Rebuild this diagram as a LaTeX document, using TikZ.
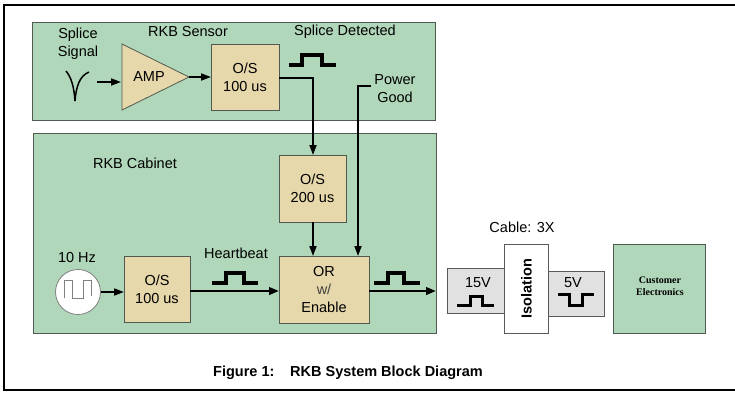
\documentclass[tikz,border=0pt]{standalone}
\usepackage{fontspec}
\setmainfont{Liberation Sans}
\newfontfamily\serifb{Liberation Serif}
\usetikzlibrary{arrows.meta}
\definecolor{grn}{RGB}{177,215,186}
\definecolor{tan}{RGB}{230,216,170}
\definecolor{lgray}{RGB}{225,225,225}
\definecolor{bord}{RGB}{80,90,80}
\tikzset{
  panel/.style={draw=bord, line width=0.9pt, fill=grn, anchor=north west, inner sep=0pt, outer sep=0pt},
  blk/.style={draw=bord, line width=0.8pt, fill=tan, anchor=north west, inner sep=0pt, outer sep=0pt, align=center, font=\fontsize{14.5}{18}\selectfont},
  gbox/.style={draw=gray!70!black, line width=0.8pt, fill=lgray, anchor=north west, inner sep=0pt, outer sep=0pt},
  lbl/.style={font=\fontsize{14.5}{18}\selectfont, inner sep=0pt, align=center},
  conn/.style={line width=2.4pt, -{Triangle[length=10pt,width=7.5pt]}},
  thin/.style={line width=1.7pt, -{Triangle[length=10pt,width=7pt]}},
  pulse/.style={line width=3.4pt, line join=miter, line cap=butt},
}
\begin{document}
\begin{tikzpicture}[x=1pt,y=-1pt]
\useasboundingbox (0,0) rectangle (735,392);
% outer frame
\draw[line width=1.6pt] (735,5) -- (4,5) -- (4,390) -- (735,390);

% panels
\node[panel, minimum width=403pt, minimum height=98pt] (sensor) at (32,22) {};
\node[panel, minimum width=403pt, minimum height=200pt] (cab) at (33,133) {};

% sensor content
\node[lbl] (splsig) at (78,44) {Splice\\Signal};
\node[lbl] (sensorlbl) at (188,32) {RKB Sensor};
\node[lbl] (spldet) at (345,32) {Splice Detected};
\draw[line width=1.5pt] (66,71) .. controls (71,77) and (74,86) .. (75,101)
      .. controls (76,88) and (79,76) .. (89,72);
\coordinate (sigout) at (97,82);
\draw[bord, line width=0.8pt, fill=tan] (122,44) -- (189,77) -- (122,110) -- cycle;
\node[lbl] (amp) at (149,77) {AMP};
\coordinate (ampin) at (121,82);
\coordinate (ampout) at (189,77);
\draw[thin] (sigout) -- (ampin);
\node[blk, minimum width=68pt, minimum height=66pt] (os1) at (211,44) {O/S\\100 us};
\draw[thin] (ampout) -- (os1.west |- ampout);
\draw[pulse] (289,65) -- (302,65) -- (302,55) -- (322,55) -- (322,65) -- (336,65);
\node[lbl] (pwr) at (395,89) {Power\\Good};

% cabinet content
\node[lbl] (cablbl) at (135,163) {RKB Cabinet};
\node[blk, minimum width=67pt, minimum height=67pt] (os2) at (279,155) {O/S\\200 us};
\node[blk, minimum width=90pt, minimum height=67pt] (orb) at (279,256) {OR\\{\color{black!75}w/}\\Enable};
\node[draw=gray, line width=0.8pt, fill=white, circle, minimum size=45pt, inner sep=0pt] (osc) at (78,292) {};
\draw[gray, line width=0.9pt] (64,298) -- (64,280) -- (72,280) -- (72,298) -- (83,298) -- (83,280) -- (91,280) -- (91,296);
\node[lbl] (hz) at (77,257) {10 Hz};
\node[blk, minimum width=66pt, minimum height=66pt] (os3) at (124,256) {O/S\\100 us};
\node[lbl] (hb) at (236,253) {Heartbeat};
\draw[pulse] (212,283) -- (226,283) -- (226,273) -- (244,273) -- (244,283) -- (258,283);
\draw[pulse] (374,283) -- (388,283) -- (388,273) -- (404,273) -- (404,283) -- (420,283);

% connectors
\coordinate (pg) at (371,86);
\coordinate (corner1) at (313,78);
\draw[thin] (os1.east |- corner1) -- (corner1) -- (os2.north -| corner1);
\draw[thin] (pg) -- (358,86) -- (orb.north -| 358,0);
\draw[thin] (os2.south -| corner1) -- (orb.north -| corner1);
\draw[thin] (osc.east) -- (os3.west |- osc.east);
\draw[conn] (os3.east |- 0,291) -- (orb.west |- 0,291);
\coordinate (cabout) at (436,291);
\draw[conn] (orb.east |- 0,291) -- (cabout);

% cable
\node[lbl] (cable) at (522,227) {Cable: 3X};
\node[gbox, minimum width=57pt, minimum height=45pt] (v15) at (447,268) {};
\node[lbl] at (478,283) {15V};
\draw[pulse, line width=3pt] (457,305) -- (470,305) -- (470,296) -- (482,296) -- (482,305) -- (494,305);
\node[gbox, minimum width=56pt, minimum height=45pt] (v5) at (548,271) {};
\node[lbl] at (573,283) {5V};
\draw[pulse, line width=3pt] (558,294) -- (569,294) -- (569,305) -- (582,305) -- (582,294) -- (594,294);
\node[draw=gray!70!black, line width=0.8pt, fill=white, anchor=north west, minimum width=44pt, minimum height=89pt, inner sep=0pt] (iso) at (504,244) {};
\node[lbl, rotate=90, font=\fontsize{14.5}{18}\selectfont\bfseries] at (iso.center) {Isolation};
\node[panel, draw=bord, minimum width=92pt, minimum height=89pt] (cust) at (613,244) {};
\node[align=center, inner sep=0pt, font=\serifb\bfseries\fontsize{10}{12}\selectfont] at (660,286) {Customer\\Electronics};

% caption
\node[anchor=west, inner sep=0pt, font=\fontsize{14.5}{18}\selectfont\bfseries] (fig) at (213,373) {Figure 1:};
\node[anchor=west, inner sep=0pt, font=\fontsize{14.5}{18}\selectfont\bfseries] (cap) at (290,373) {RKB System Block Diagram};
\end{tikzpicture}
\end{document}
